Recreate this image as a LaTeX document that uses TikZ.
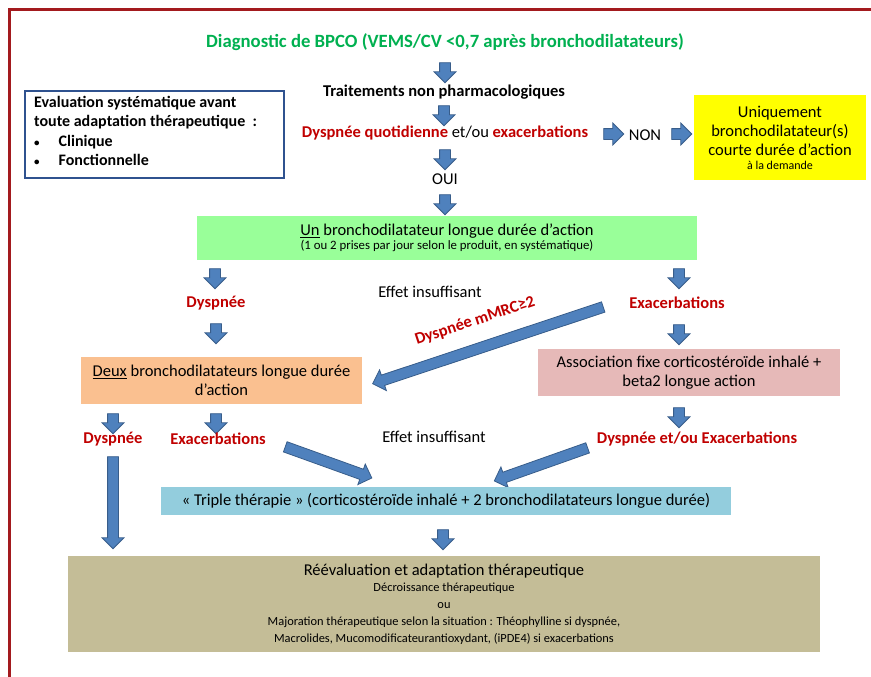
\documentclass[tikz,border=0pt]{standalone}
\usepackage{fontspec}
\setmainfont{Carlito}
\usetikzlibrary{shapes.arrows}

\definecolor{framered}{HTML}{A31A1E}
\definecolor{titlegreen}{HTML}{00B050}
\definecolor{alertred}{HTML}{C00000}
\definecolor{arrowblue}{HTML}{4F81BD}
\definecolor{arrowedge}{HTML}{385D8A}
\definecolor{evalblue}{HTML}{2F528F}
\definecolor{boxyellow}{HTML}{FFFF00}
\definecolor{boxgreen}{HTML}{99FF99}
\definecolor{boxorange}{HTML}{FAC090}
\definecolor{boxpink}{HTML}{E6B9B8}
\definecolor{boxcyan}{HTML}{93CDDD}
\definecolor{boxkhaki}{HTML}{C4BD97}

\newcommand{\alert}[1]{\textcolor{alertred}{\bfseries #1}}
\newcommand{\smallbullet}{{\fontsize{11}{11}\selectfont\textbullet}}

\tikzset{
	txt/.style={inner sep=0pt, font=\fontsize{16.5}{19.5}\selectfont},
	bold/.style={txt, font=\fontsize{16.5}{19.5}\selectfont\bfseries},
	redbold/.style={bold, text=alertred},
	box/.style={inner sep=0pt, align=center, font=\fontsize{16.5}{19}\selectfont},
	blockarrow/.style={single arrow, draw=arrowedge, fill=arrowblue, line width=0.8pt,
		inner sep=5pt, single arrow head extend=5.5pt, minimum height=20pt},
	downarrow/.style={blockarrow, rotate=-90},
	rightarrow/.style={blockarrow}
}

\begin{document}
\begin{tikzpicture}[x=1pt, y=-1pt]
	\useasboundingbox (0,0) rectangle (871,677);

	% frame
	\draw[framered, line width=3pt] (9,677) -- (9,10) -- (871,10);

	% top of the chart
	\node[bold, text=titlegreen, font=\fontsize{18.7}{22}\selectfont\bfseries] (diag) at (445,42) {Diagnostic de BPCO (VEMS/CV <0,7 après bronchodilatateurs)};
	\node[downarrow] (a1) at (445,70) {};
	\node[bold] (trait) at (444,92) {Traitements non pharmacologiques};
	\node[downarrow] (a2) at (444,113) {};
	\node[txt] (quot) at (445,133) {\alert{Dyspnée quotidienne} et/ou \alert{exacerbations}};
	\node[rightarrow] (a3) at (611,134) {};
	\node[txt] (non) at (645,135) {NON};
	\node[rightarrow] (a4) at (679,134) {};
	\node[downarrow] (a5) at (445,157) {};
	\node[txt] (oui) at (445,179) {OUI};
	\node[downarrow] (a6) at (445,202) {};

	% side boxes
	\node[draw=evalblue, line width=1.5pt, minimum width=259pt, minimum height=87pt] (evalbox) at (154.5,134.5) {};
	\node[inner sep=0pt, anchor=north west, align=left, font=\fontsize{16}{19.5}\selectfont\bfseries] (evaltxt) at (34,96)
		{Evaluation systématique avant\\toute adaptation thérapeutique\ \ :\\\smallbullet\hspace{19pt}Clinique\\\smallbullet\hspace{19pt}Fonctionnelle};
	\node[box, fill=boxyellow, minimum width=172pt, minimum height=85pt] (demande) at (780,137.5)
		{Uniquement\\bronchodilatateur(s)\\courte durée d’action\\[-5pt]{\fontsize{12}{13}\selectfont à la demande}};

	% one long-acting bronchodilator
	\node[box, fill=boxgreen, minimum width=500pt, minimum height=44pt] (un) at (447,238)
		{\underline{Un} bronchodilatateur longue durée d’action\\[-5pt]{\fontsize{12.8}{14}\selectfont (1 ou 2 prises par jour selon le produit, en systématique)}};
	\node[downarrow] (a7) at (215,276) {};
	\node[downarrow] (a8) at (679,276) {};
	\node[redbold] (dysp1) at (216,303) {Dyspnée};
	\node[redbold] (exa1) at (677,303) {Exacerbations};
	\node[txt] (effet1) at (430,292) {Effet insuffisant};
	\node[blockarrow, minimum height=243pt, rotate=198.4] (ad1) at (490.5,344.5) {};
	\node[redbold, rotate=18.4] (mmrc) at (475,321) {Dyspnée mMRC≥2};
	\node[downarrow] (a9) at (216,331) {};
	\node[downarrow] (a10) at (679,332) {};

	% second line
	\node[box, fill=boxorange, minimum width=281pt, minimum height=47pt] (deux) at (221.5,380.5)
		{\underline{Deux} bronchodilatateurs longue durée\\d’action};
	\node[box, fill=boxpink, minimum width=302pt, minimum height=47pt] (assoc) at (689,372.5)
		{Association fixe corticostéroïde inhalé +\\beta2 longue action};
	\node[downarrow] (a11) at (679,415) {};
	\node[redbold] (dyspexa) at (697,439) {Dyspnée et/ou Exacerbations};
	\node[downarrow] (a12) at (113,421) {};
	\node[downarrow] (a13) at (216,421) {};
	\node[redbold] (dysp2) at (113,439) {Dyspnée};
	\node[redbold] (exa2) at (218,439) {Exacerbations};
	\node[txt] (effet2) at (434,437) {Effet insuffisant};
	\node[blockarrow, minimum height=92pt, rotate=-90] (ad2) at (113,500) {};
	\node[blockarrow, minimum height=92pt, rotate=-19.8] (ad3) at (326,461.5) {};
	\node[blockarrow, minimum height=99pt, rotate=199.5] (ad4) at (543.5,463.5) {};

	% triple therapy and reassessment
	\node[box, fill=boxcyan, minimum width=570pt, minimum height=28pt] (triple) at (446,501)
		{« Triple thérapie » (corticostéroïde inhalé + 2 bronchodilatateurs longue durée)};
	\node[downarrow] (a14) at (443,537) {};
	\node[box, fill=boxkhaki, minimum width=752pt, minimum height=96pt, font=\fontsize{12.4}{17}\selectfont] (reeval) at (444,604)
		{{\fontsize{16.5}{19}\selectfont Réévaluation et adaptation thérapeutique}\\[-1pt]Décroissance thérapeutique\\ou\\
		Majoration thérapeutique selon la situation : Théophylline si dyspnée,\\
		Macrolides, Mucomodificateurantioxydant, (iPDE4) si exacerbations};
\end{tikzpicture}
\end{document}
